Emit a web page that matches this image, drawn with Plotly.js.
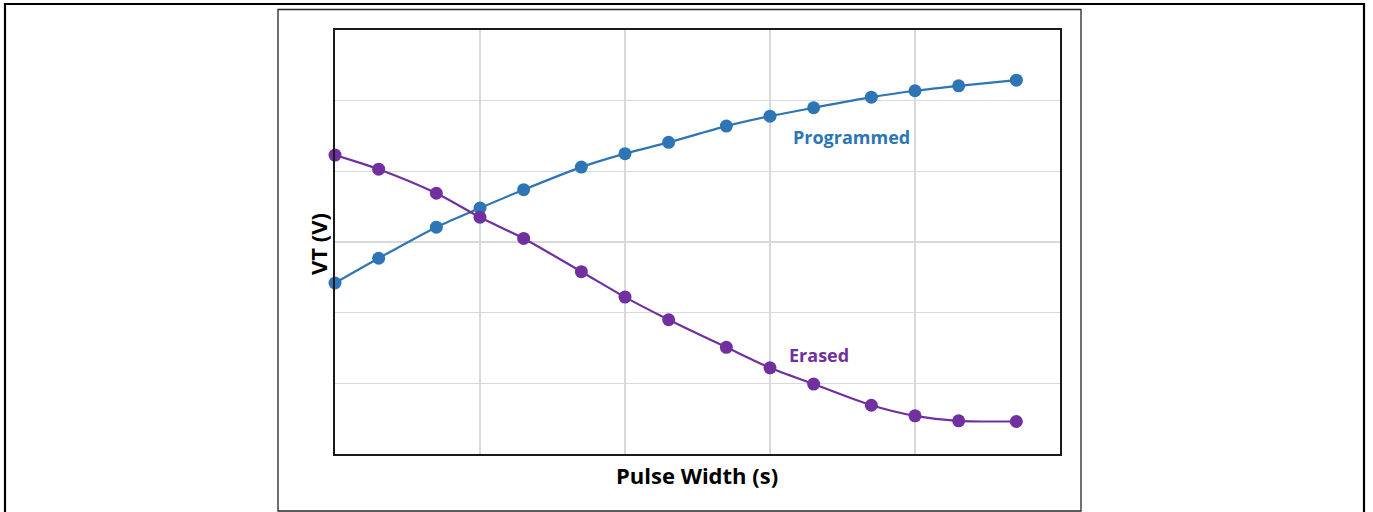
<!DOCTYPE html>
<html>
<head>
<meta charset="utf-8">
<script src="https://cdn.plot.ly/plotly-3.0.1.min.js"></script>
<style>
  html, body { margin: 0; padding: 0; background: #ffffff; }
  #chart { width: 1373px; height: 512px; }
</style>
</head>
<body>
<div id="chart"></div>
<script>
// Pulse width (s), log-spaced 1-2-5 sequence
const pulseWidth = [1e-6, 2e-6, 5e-6, 1e-5, 2e-5, 5e-5, 1e-4, 2e-4, 5e-4, 1e-3, 2e-3, 5e-3, 1e-2, 2e-2, 5e-2];
// Threshold voltage (arbitrary units)
const programmedVT = [2.42, 2.77, 3.21, 3.48, 3.74, 4.06, 4.25, 4.41, 4.64, 4.78, 4.90, 5.05, 5.14, 5.21, 5.29];
const erasedVT     = [4.23, 4.03, 3.69, 3.35, 3.05, 2.58, 2.22, 1.90, 1.51, 1.22, 0.99, 0.69, 0.54, 0.47, 0.46];
const seriesNames = ["Programmed", "Erased"];
const xTitle = "Pulse Width (s)";
const yTitle = "VT (V)";

const BLUE = "#2E75B6";
const PURPLE = "#7030A0";

// plot area geometry (pixels)
const W = 1373, Hh = 512;
const L = 335, R = 1060, T = 30, B = 454;
const pw = R - L, ph = B - T;
const px = x => (x - L) / pw;
const py = y => (B - y) / ph;

const traces = [
  {
    x: pulseWidth, y: programmedVT, name: seriesNames[0],
    type: "scatter", mode: "lines+markers",
    line: {color: BLUE, width: 2.2, shape: "spline", smoothing: 0.8},
    marker: {color: BLUE, size: 13},
    cliponaxis: false, hoverinfo: "skip"
  },
  {
    x: pulseWidth, y: erasedVT, name: seriesNames[1],
    type: "scatter", mode: "lines+markers",
    line: {color: PURPLE, width: 2.2, shape: "spline", smoothing: 0.8},
    marker: {color: PURPLE, size: 13},
    cliponaxis: false, hoverinfo: "skip"
  }
];

const layout = {
  width: W, height: Hh,
  margin: {l: L, r: W - R, t: T, b: Hh - B, pad: 0},
  paper_bgcolor: "#ffffff",
  plot_bgcolor: "#ffffff",
  showlegend: false,
  font: {family: "Open Sans, Liberation Sans, sans-serif", color: "#000000"},
  xaxis: {
    type: "log", range: [-6, -1],
    dtick: 1,
    showticklabels: false, ticks: "",
    showgrid: true, gridcolor: "#d9d9d9", gridwidth: 1.3,
    showline: true, linecolor: "#1a1a1a", linewidth: 2, mirror: true,
    zeroline: false, fixedrange: true
  },
  yaxis: {
    range: [0, 6], dtick: 1,
    showticklabels: false, ticks: "",
    showgrid: true, gridcolor: "#d9d9d9", gridwidth: 1.3,
    showline: true, linecolor: "#1a1a1a", linewidth: 2, mirror: true,
    zeroline: false, fixedrange: true
  },
  shapes: [
    // outer frame
    {type: "rect", xref: "paper", yref: "paper", layer: "below",
     x0: px(5), x1: px(1364), y0: py(540), y1: py(4),
     line: {color: "#000000", width: 2.2}, fillcolor: "rgba(0,0,0,0)"},
    // chart box
    {type: "rect", xref: "paper", yref: "paper", layer: "below",
     x0: px(278), x1: px(1081), y0: py(511), y1: py(9.5),
     line: {color: "#262626", width: 1.3}, fillcolor: "rgba(0,0,0,0)"}
  ],
  annotations: [
    {text: "<b>" + seriesNames[0] + "</b>", xref: "paper", yref: "paper",
     x: px(851), y: py(137), xanchor: "center", yanchor: "middle", showarrow: false,
     font: {family: "Open Sans, sans-serif", size: 18, color: BLUE}},
    {text: "<b>" + seriesNames[1] + "</b>", xref: "paper", yref: "paper",
     x: px(819), y: py(355), xanchor: "center", yanchor: "middle", showarrow: false,
     font: {family: "Open Sans, sans-serif", size: 18, color: PURPLE}},
    {text: "<b>" + xTitle + "</b>", xref: "paper", yref: "paper",
     x: px(697), y: py(475), xanchor: "center", yanchor: "middle", showarrow: false,
     font: {family: "Open Sans, sans-serif", size: 22, color: "#000000"}},
    {text: "<b>" + yTitle + "</b>", xref: "paper", yref: "paper", textangle: -90,
     x: px(318), y: py(244), xanchor: "center", yanchor: "middle", showarrow: false,
     font: {family: "Open Sans, sans-serif", size: 22, color: "#000000"}}
  ]
};

Plotly.newPlot("chart", traces, layout, {displayModeBar: false, staticPlot: true});
</script>
</body>
</html>
